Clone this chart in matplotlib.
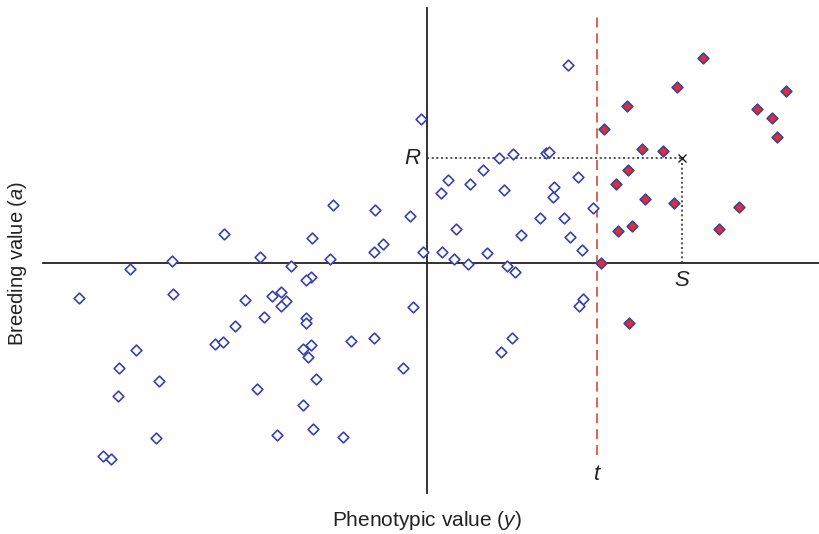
import matplotlib
matplotlib.use("Agg")
import matplotlib.pyplot as plt

plt.rcParams['font.family'] = ['Liberation Sans', 'DejaVu Sans']
plt.rcParams['mathtext.fontset'] = 'custom'
plt.rcParams['mathtext.rm'] = 'Liberation Sans'
plt.rcParams['mathtext.it'] = 'Liberation Sans:italic'

# Phenotypic value (y) and breeding value (a), unselected individuals
unsel_y = [-203, -255, -297, -348, -254, -192, -212, -204, -291, -308, -268, -309, -271, -324, -316,
           -94, -52, -17, -115, -44, -53, -4, -167, -97, -136, -116, -121, -146, -155, -182,
           -141, -146, -163, -121, -121, -14, -76, -53, -116, -124, -119, -24, -111, -170,
           -124, -114, -150, -84, 141, -6, 72, 86, 119, 122, 56, 21, 14, 43, 77, 127, 151,
           126, 166, 113, 137, 29, 94, 143, 155, 15, 60, 27, 41, 80, 88, 156, 152, 85, 74]
unsel_a = [29, 2, -6, -35, -31, -63, -81, -79, -87, -105, -118, -133, -175, -193, -196,
           58, 53, 47, 25, 19, 11, 11, 6, 4, -3, -14, -17, -29, -33, -37,
           -38, -43, -54, -55, -60, -44, -78, -75, -82, -86, -94, -105, -116, -126,
           -142, -166, -172, -174, 198, 144, 105, 109, 110, 111, 93, 83, 70, 79, 73, 76, 86,
           66, 55, 45, 45, 34, 28, 26, 13, 11, 10, 4, -1, -3, -9, -36, -43, -75, -89]

# Selected individuals (above truncation point t)
sel_y = [177, 189, 191, 174, 276, 250, 200, 359, 330, 345, 350, 215, 236, 201, 218, 247, 312, 205, 292, 202]
sel_a = [134, 79, 32, 0, 205, 176, 157, 172, 154, 145, 126, 114, 112, 93, 64, 60, 56, 37, 34, -60]

t_value = 170          # truncation point
S_value = 255          # selection differential
R_value = 105          # response to selection

fig = plt.figure(figsize=(8.2, 5.34), dpi=100)
ax = fig.add_axes([0, 0, 1, 1])
ax.set_xlim(-427, 393)
ax.set_ylim(-271, 263)
ax.axis('off')

# axes through origin
ax.plot([-384, 393], [0, 0], color='#222222', lw=1.3, zorder=1)
ax.plot([0, 0], [-230, 255], color='#222222', lw=1.3, zorder=1)

# truncation line
ax.plot([t_value, t_value], [-192, 248], color='#d9473a', lw=1.2,
        dashes=(6, 3.5), zorder=1)

# R and S dotted guides
ax.plot([0, S_value], [R_value, R_value], color='#333333', lw=1.2, ls=(0, (1.2, 1.6)), zorder=1)
ax.plot([S_value, S_value], [0, R_value], color='#333333', lw=1.2, ls=(0, (1.2, 1.6)), zorder=1)
ax.plot([S_value], [R_value], marker='x', color='#222222', ms=6, mew=1.0, zorder=4)

ax.scatter(unsel_y, unsel_a, marker='D', s=30, facecolor='white',
           edgecolor='#3b41a8', linewidth=1.2, zorder=3)
ax.scatter(sel_y, sel_a, marker='D', s=30, facecolor='#e0302a',
           edgecolor='#3b41a8', linewidth=1.2, zorder=3)

ax.text(-15, R_value, 'R', fontsize=16, style='italic', ha='center', va='center', color='#222222')
ax.text(S_value, -17, 'S', fontsize=16, style='italic', ha='center', va='center', color='#222222')
ax.text(t_value, -212, 't', fontsize=16, style='italic', ha='center', va='center', color='#222222')

ax.text(0, -258, r'Phenotypic value ($\mathit{y}$)', fontsize=15, ha='center', va='center', color='#222222')
ax.text(-409, 0, r'Breeding value ($\mathit{a}$)', fontsize=14.5, ha='center', va='center',
        rotation=90, color='#222222')

fig.savefig('out.png', dpi=100)
